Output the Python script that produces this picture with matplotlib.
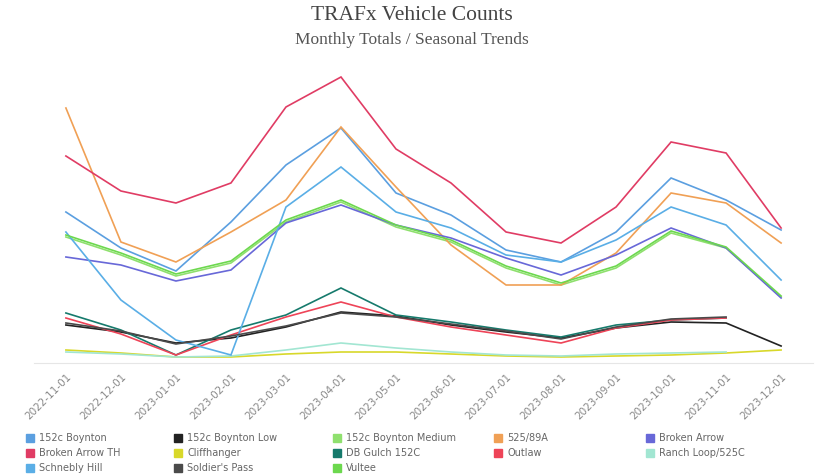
import matplotlib.pyplot as plt
from matplotlib.patches import Rectangle
import numpy as np

nan = np.nan

# Months on the x axis (evenly spaced categories)
months = ['2022-11-01', '2022-12-01', '2023-01-01', '2023-02-01', '2023-03-01',
          '2023-04-01', '2023-05-01', '2023-06-01', '2023-07-01', '2023-08-01',
          '2023-09-01', '2023-10-01', '2023-11-01', '2023-12-01']

# Monthly totals per counter (arbitrary units)
boynton_152c = [148, 112, 89, 138, 195, 232, 167, 145, 110, 98, 128, 182, 160, 130]
boynton_low_152c = [35, 28, 17, 22, 33, 48, 44, 35, 28, 22, 32, 38, 37, 14]
boynton_medium_152c = [123, 105, 84, 97, 138, 158, 133, 118, 92, 75, 92, 127, 112, 63]
rt_525_89a = [252, 118, 98, 128, 160, 233, 173, 115, 75, 75, 107, 167, 157, 117]
broken_arrow = [103, 95, 79, 90, 137, 155, 135, 122, 102, 85, 105, 132, 112, 62]
broken_arrow_th = [204, 169, 157, 177, 253, 283, 211, 177, 128, 117, 153, 218, 207, 132]
cliffhanger = [10, 7, 3, 3, 6, 8, 8, 6, 4, 3, 4, 5, 7, 10]
db_gulch_152c = [47, 30, 5, 30, 45, 72, 45, 38, 30, 23, 35, 40, 42, nan]
outlaw = [42, 26, 5, 25, 43, 58, 43, 33, 25, 17, 32, 40, 42, nan]
ranch_loop_525c = [8, 6, 3, 4, 10, 17, 12, 8, 5, 4, 6, 7, 8, nan]
schnebly_hill = [128, 60, 20, 5, 153, 193, 148, 132, 105, 98, 120, 153, 135, 80]
soldiers_pass = [37, 29, 16, 24, 34, 47, 43, 36, 29, 21, 33, 41, 43, nan]
vultee = [125, 107, 86, 99, 140, 160, 135, 120, 94, 77, 94, 129, 113, 64]

series_names = ['152c Boynton', '152c Boynton Low', '152c Boynton Medium', '525/89A',
                'Broken Arrow', 'Broken Arrow TH', 'Cliffhanger', 'DB Gulch 152C',
                'Outlaw', 'Ranch Loop/525C', 'Schnebly Hill', "Soldier's Pass", 'Vultee']
series_values = [boynton_152c, boynton_low_152c, boynton_medium_152c, rt_525_89a,
                 broken_arrow, broken_arrow_th, cliffhanger, db_gulch_152c,
                 outlaw, ranch_loop_525c, schnebly_hill, soldiers_pass, vultee]
series_colors = ['#5b9fe0', '#222222', '#8fe06e', '#f0a055',
                 '#6868d8', '#e03c64', '#d8d82a', '#167a6c',
                 '#ee4458', '#a2e6d2', '#5aaee6', '#4a4a4a', '#6cd84e']


def plot_counts(path='out.png'):
    fig = plt.figure(figsize=(8.23, 4.75), dpi=100)
    ax = fig.add_axes([34 / 823, 1 - 363 / 475, (813 - 34) / 823, 303 / 475])

    x = np.arange(len(months))
    for name, values, color in zip(series_names, series_values, series_colors):
        ax.plot(x, values, color=color, lw=1.2, label=name, solid_joinstyle='miter')

    # Axis styling
    ax.set_xlim(-0.58, len(months) - 1 + 0.58)
    ax.set_ylim(-3, 300)
    ax.set_yticks([])
    ax.set_xticks(x)
    ax.set_xticklabels(months, rotation=45, ha='right', rotation_mode='anchor',
                       fontsize=7.5, color='#888888')
    ax.tick_params(axis='x', length=0, pad=6)
    for side in ['top', 'right', 'left']:
        ax.spines[side].set_visible(False)
    ax.spines['bottom'].set_color('#e6e6e6')

    # Titles
    fig.text(0.5, 1 - 15 / 475, 'TRAFx Vehicle Counts', ha='center', va='center',
             family='Liberation Serif', fontsize=15.5, color='#444444')
    fig.text(0.5, 1 - 40 / 475, 'Monthly Totals / Seasonal Trends', ha='center', va='center',
             family='Liberation Serif', fontsize=12.5, color='#555555')

    # Legend laid out row by row, 5 columns
    col_x = [30, 178, 337, 498, 650]
    row_y = [438, 453, 468]
    for i, (name, color) in enumerate(zip(series_names, series_colors)):
        r, c = divmod(i, 5)
        px, py = col_x[c], row_y[r]
        fig.patches.append(Rectangle(((px - 4) / 823, 1 - (py + 4) / 475), 8 / 823, 8 / 475,
                                     transform=fig.transFigure, color=color, figure=fig))
        fig.text((px + 9) / 823, 1 - py / 475, name, ha='left', va='center',
                 fontsize=7, color='#666666')

    fig.savefig(path, dpi=100)


plot_counts()
